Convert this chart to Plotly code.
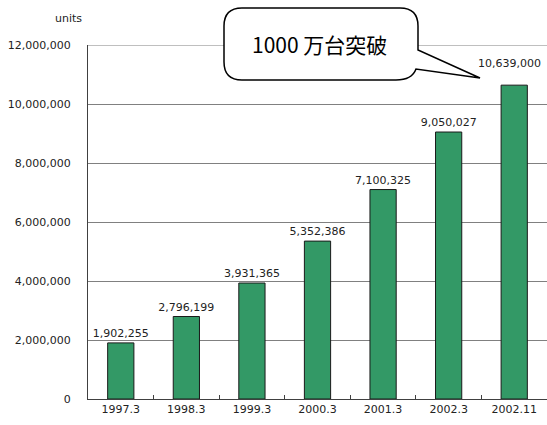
import plotly.graph_objects as go

categories = ["1997.3", "1998.3", "1999.3", "2000.3", "2001.3", "2002.3", "2002.11"]
units = [1902255, 2796199, 3931365, 5352386, 7100325, 9050027, 10639000]
labels = ["1,902,255", "2,796,199", "3,931,365", "5,352,386", "7,100,325", "9,050,027", "10,639,000"]
callout_text = "1000 万台突破"
y_max = 12000000

W, H = 547, 425
L, R, T, B = 88, 0, 45, 26
pw, ph = W - L - R, H - T - B

def px(x):
    return (x - L) / pw

def py(y):
    return (H - B - y) / ph

font = "DejaVu Sans, Arial, sans-serif"

bar_text = labels[:-1] + [""]
fig = go.Figure(go.Bar(
    x=categories, y=units, text=bar_text, textposition="outside",
    textfont=dict(size=11, color="#222222", family=font),
    constraintext="none",
    marker=dict(color="#339966", line=dict(color="#1a1a1a", width=1)),
    width=0.4, cliponaxis=False,
))
# last label raised above the callout tail (x given as category index)
last = len(categories) - 1
fig.add_annotation(x=last, y=units[last], xref="x", yref="y", text=labels[last], showarrow=False,
                   yanchor="bottom", yshift=13, xshift=-5,
                   font=dict(size=11, color="#222222", family=font))

# top gridline at the axis maximum
fig.add_shape(type="line", xref="paper", yref="y", x0=0, x1=1, y0=y_max, y1=y_max,
              line=dict(color="#808080", width=1), layer="below")

# callout path (pixel points -> paper coords)
r = 18
x0, x1, y0, y1 = 224, 418, 8, 80
pts = [
    ("M", (x0 + r, y0)), ("L", (x1 - r, y0)), ("Q", (x1, y0), (x1, y0 + r)),
    ("L", (x1, 50)), ("L", (480, 78)), ("L", (416, 69)),
    ("Q", (412, y1), (x1 - r - 4, y1)),
    ("L", (x0 + r, y1)), ("Q", (x0, y1), (x0, y1 - r)),
    ("L", (x0, y0 + r)), ("Q", (x0, y0), (x0 + r, y0)),
]
path = ""
for p in pts:
    cmd = p[0]
    coords = " ".join(f"{px(a):.5f},{py(b):.5f}" for a, b in p[1:])
    path += f"{cmd} {coords} "
path += "Z"

fig.add_shape(type="path", path=path, xref="paper", yref="paper",
              fillcolor="white", line=dict(color="black", width=1.5), layer="above")

fig.add_annotation(text=callout_text, x=px(319), y=py(44), xref="paper", yref="paper",
                   showarrow=False, font=dict(size=21, color="black", family="Noto Sans CJK JP"),
                   xanchor="center", yanchor="middle")
fig.add_annotation(text="units", x=px(68), y=py(19), xref="paper", yref="paper",
                   showarrow=False, font=dict(size=11, color="#222222", family=font),
                   xanchor="center", yanchor="middle")

fig.update_layout(
    width=W, height=H, margin=dict(l=L, r=R, t=T, b=B),
    plot_bgcolor="white", paper_bgcolor="white", showlegend=False,
    bargap=0.6,
)
fig.update_yaxes(range=[0, y_max], dtick=2000000,
                 tickformat=",d",
                 showgrid=True, gridcolor="#808080", gridwidth=1,
                 showline=True, linecolor="#404040", linewidth=1,
                 ticks="", ticklabelstandoff=14, zeroline=False,
                 tickfont=dict(size=11, color="#222222", family=font))
fig.update_xaxes(type="category", showline=True, linecolor="#404040", linewidth=1,
                 ticks="inside", ticklen=4, tickcolor="#404040", tickson="boundaries",
                 showgrid=False, range=[-0.5, 6.5],
                 tickfont=dict(size=11, color="#222222", family=font))

fig.write_html("out.html")
